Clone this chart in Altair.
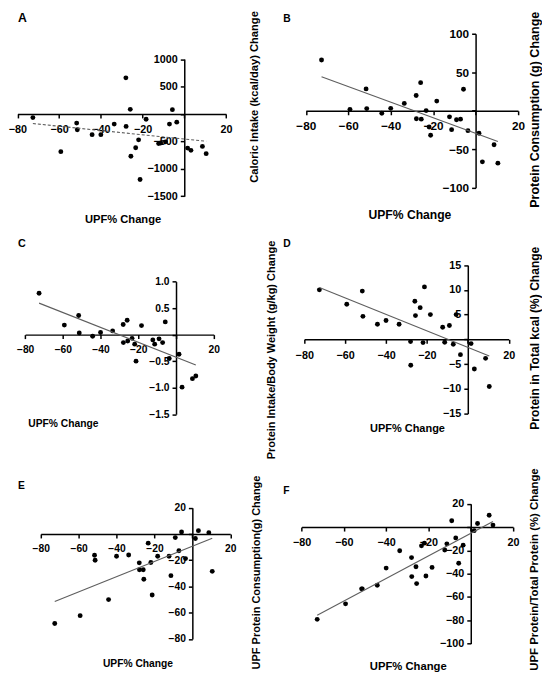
import altair as alt
import pandas as pd

# ---------------- data ----------------
upf_change = [-72.6, -59.2, -51.6, -51.3, -44.2, -40.0, -33.6, -28.0, -27.9, -25.9,
              -25.6, -23.3, -21.9, -21.2, -18.3, -12.3, -11.3, -9.0, -7.1, -5.7,
              -3.6, 1.6, 3.2, 8.7, 10.5]

caloric_kcal = [-66, -688, -167, -287, -377, -377, -185, 658, -227, 84,
                -772, -616, -472, -1196, -96, -540, -530, -508, -185, 78,
                -150, -622, -664, -592, -724]

protein_g = [65.9, 1.9, 28.4, 2.8, -3.2, 3.2, 9.6, 19.8, -10.4, 36.5,
             -10.9, 0.2, -21.1, -31.8, 12.6, -7.9, -24.5, -11.7, -10.9, 27.9,
             -25.8, -29.2, -66.3, -44.1, -68.0]

protein_per_kg = [0.78, 0.18, 0.36, 0.03, -0.03, 0.04, 0.07, 0.19, -0.15, 0.27,
                  -0.12, -0.07, -0.18, -0.50, 0.17, -0.10, -0.18, -0.08, -0.15, 0.24,
                  -0.45, -0.37, -0.99, -0.83, -0.78]

protein_pct_kcal = [10.0, 7.1, 9.75, 4.65, 3.05, 3.8, 3.05, -0.46, -5.24, 7.7,
                    4.8, 6.4, -0.66, 10.6, 5.0, 2.45, -0.6, 2.8, -1.0, 5.0,
                    -3.1, -0.86, -6.0, -3.85, -9.55]

upf_protein_g = [-68.25, -62.25, -16.25, -20.0, -50.0, -17.0, -16.0, -22.0, -27.25, -27.25,
                 -34.5, -7.0, -21.75, -46.5, -17.0, -17.0, -31.75, -2.75, -12.75, 1.5,
                 -18.75, -3.5, 2.5, 1.0, -28.5]

upf_protein_pct = [-79.2, -65.9, -53.0, -53.0, -49.9, -35.2, -20.3, -26.2, -42.5, -34.1,
                   -48.5, -16.1, -13.8, -42.0, -34.6, -19.7, -14.4, 5.4, -9.3, -31.0,
                   -15.5, -3.1, 3.1, 10.1, 1.7]

x_ticks = [-80, -60, -40, -20, 0, 20]
x_title = "UPF% Change"

# ---------------- layout / style ----------------
FONT = "Liberation Sans"
CELL_W, CELL_H = 266, 223
COL_X = [8, 8 + CELL_W]
ROW_Y = [8, 8 + CELL_H, 8 + 2 * CELL_H]
RIGHT_TITLE_MAX = 535.5   # keep right-hand titles inside the page width

SY, S = 0.99, 0.985


def tx(v):
    return v + 2.2


def ty(v):
    return 8 + (v - 5) * SY


panels = [
    dict(letter="A", values=caloric_kcal, ytitle="Caloric Intake (kcal/day) Change",
         ydomain=(-1500, 1000), yticks=[-1500, -1000, -500, 0, 500, 1000], yfmt="d",
         col=0, row=0, xpx=(13.3, 223.0), ypx=(194.3, 55.0), xt=(119, 218.3), yt=(251.7, 93),
         let=(13.3, 16.7), fx=11.4, fy=11.4, fl=11, flet=12.5, dashed=True),
    dict(letter="B", values=protein_g, ytitle="Protein Consumption (g) Change",
         ydomain=(-100, 100), yticks=[-100, -50, 0, 50, 100], yfmt="d",
         col=1, row=0, xpx=(303.3, 516.7), ypx=(185.7, 29.3), xt=(407.5, 213.3), yt=(540, 106),
         let=(280, 16.7), fx=12.4, fy=12.8, fl=12, flet=10.5, dashed=False),
    dict(letter="C", values=protein_per_kg, ytitle="Protein Intake/Body Weight (g/kg) Change",
         ydomain=(-1.5, 1.0), yticks=[-1.5, -1.0, -0.5, 0, 0.5, 1.0], yfmt=".1f",
         col=0, row=1, xpx=(21.0, 210.7), ypx=(415.7, 281.0), xt=(59, 425), yt=(268.3, 350),
         let=(13.3, 245.7), fx=10.5, fy=11.2, fl=10.5, flet=11, dashed=False),
    dict(letter="D", values=protein_pct_kcal, ytitle="Protein in Total kcal (%) Change",
         ydomain=(-15, 15), yticks=[-15, -10, -5, 0, 5, 10, 15], yfmt="d",
         col=1, row=1, xpx=(301.7, 507.3), ypx=(415.0, 264.3), xt=(405, 430), yt=(541.7, 338),
         let=(280, 245.7), fx=11.2, fy=12.3, fl=11, flet=10.5, dashed=False),
    dict(letter="E", values=upf_protein_g, ytitle="UPF Protein Consumption(g) Change",
         ydomain=(-80, 20), yticks=[-80, -60, -40, -20, 0, 20], yfmt="d",
         col=0, row=2, xpx=(36.7, 227.3), ypx=(644.0, 510.7), xt=(134, 669.3), yt=(254, 576),
         let=(13.3, 490.7), fx=10.5, fy=11.2, fl=10.5, flet=10.5, dashed=False),
    dict(letter="F", values=upf_protein_pct, ytitle="UPF Protein/Total Protein (%) Change",
         ydomain=(-100, 20), yticks=[-100, -80, -60, -40, -20, 0, 20], yfmt="d",
         col=1, row=2, xpx=(299.0, 511.7), ypx=(648.7, 506.7), xt=(405.8, 672.0), yt=(540, 573),
         let=(280, 496.7), fx=11.5, fy=11.6, fl=11, flet=10.5, dashed=False),
]

HIDE_ZERO = "datum.value == 0 ? '' : datum.label"

COMMON_AXIS = dict(
    domainColor="black", domainWidth=1.5, tickColor="black", tickWidth=1.5,
    tickSize=4, grid=False, labelFont=FONT, labelFontWeight="bold",
    labelColor="black", labelFlush=False, labelOverlap=False,
    titleFont=FONT, titleFontWeight="bold", titleColor="black",
)


def make_panel(p):
    cx, cy = COL_X[p["col"]], ROW_Y[p["row"]]
    xr = [tx(p["xpx"][0]) - cx, tx(p["xpx"][1]) - cx]
    yr = [ty(p["ypx"][0]) - cy, ty(p["ypx"][1]) - cy]
    x0 = xr[0] + (0 - x_ticks[0]) / (x_ticks[-1] - x_ticks[0]) * (xr[1] - xr[0])
    lo, hi = p["ydomain"]
    y0 = yr[0] + (0 - lo) / (hi - lo) * (yr[1] - yr[0])
    ytitle_x = min(tx(p["yt"][0]), RIGHT_TITLE_MAX)

    df = pd.DataFrame({"x": upf_change, "y": p["values"]})

    xscale = alt.Scale(domain=[x_ticks[0], x_ticks[-1]], range=xr, nice=False, zero=False)
    yscale = alt.Scale(domain=[lo, hi], range=yr, nice=False, zero=False)

    # crossing x axis (at y = 0) with the "UPF% Change" title below
    xaxis = alt.Axis(
        values=x_ticks, labelExpr=HIDE_ZERO, offset=y0 - CELL_H, orient="bottom",
        labelFontSize=p["fl"] * S, labelPadding=6, title=x_title,
        titleFontSize=p["fx"] * S, titleAlign="center", titleBaseline="middle",
        titleX=tx(p["xt"][0]) - cx, titleY=ty(p["xt"][1]) - cy - y0, titleAngle=0,
        **COMMON_AXIS,
    )
    # top axis carries only the panel letter
    letter_axis = alt.Axis(
        orient="top", offset=0, domain=False, ticks=False, labels=False, grid=False,
        title=p["letter"], titleFont=FONT, titleFontWeight="bold", titleColor="black",
        titleFontSize=p["flet"] * S, titleAlign="left", titleBaseline="alphabetic",
        titleAngle=0, titleX=tx(p["let"][0]) - cx, titleY=ty(p["let"][1]) - cy,
    )
    # crossing y axis (at x = 0) with its title far on the right
    yaxis = alt.Axis(
        values=p["yticks"], format=p["yfmt"], labelExpr=HIDE_ZERO, offset=-x0,
        orient="left", labelFontSize=p["fl"] * S, labelPadding=3, title=p["ytitle"],
        titleFontSize=p["fy"] * S, titleAngle=270, titleAlign="center",
        titleBaseline="middle",
        titleX=ytitle_x - cx - x0, titleY=ty(p["yt"][1]) - cy,
        **COMMON_AXIS,
    )
    yenc = alt.Y("y:Q", scale=yscale, axis=yaxis)

    base = alt.Chart(df)
    pts = base.mark_circle(size=24, color="black", opacity=1).encode(
        x=alt.X("x:Q", scale=xscale, axis=xaxis), y=yenc)
    line_kw = dict(color="#5e5e5e", strokeWidth=1.1)
    if p["dashed"]:
        line_kw["strokeDash"] = [3, 2]
    line = base.transform_regression("x", "y").mark_line(**line_kw).encode(
        x=alt.X("x:Q", scale=xscale, axis=letter_axis), y=yenc)

    return (alt.layer(pts, line)
            .resolve_axis(x="independent")
            .properties(width=CELL_W, height=CELL_H))


chart = alt.concat(
    *[make_panel(p) for p in panels], columns=2, spacing=0, bounds="flush"
).properties(padding=0).configure_view(stroke=None)

chart.save("out.html", embed_options={"renderer": "svg", "actions": False})
